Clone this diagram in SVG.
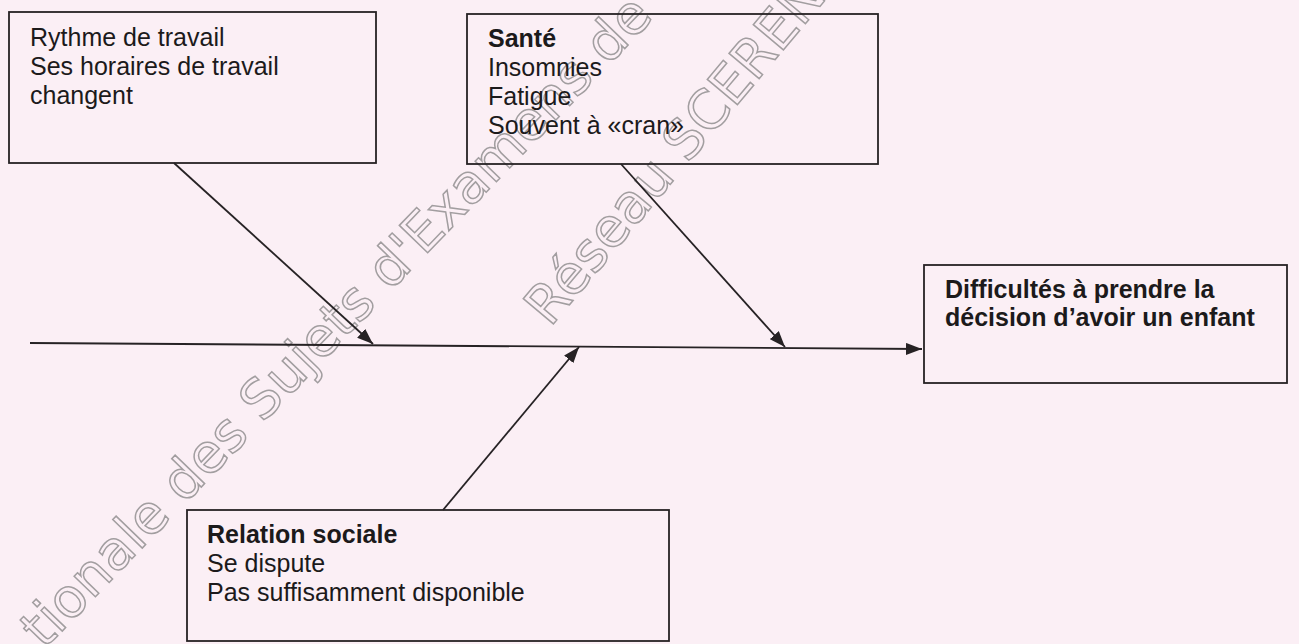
<svg xmlns="http://www.w3.org/2000/svg" width="1299" height="644" viewBox="0 0 1299 644">
<defs>
<style>
.bg{fill:#fbeff5}
.box{fill:none;stroke:#262224;stroke-width:1.8}
.t{font-family:"Liberation Sans",Arial,sans-serif;font-size:25px;fill:#1c1a1b}
.b{font-weight:bold}
.wm{font-family:"DejaVu Sans","Liberation Sans",sans-serif;font-size:54px;fill:none;stroke:#a29ea0;stroke-width:1.5}
.c{fill:none;stroke:#262224;stroke-width:1.8;marker-end:url(#ah)}
</style>
<marker id="ah" markerUnits="userSpaceOnUse" markerWidth="17" markerHeight="12" refX="16" refY="6" orient="auto">
<path d="M0,0 L16,6 L0,12 Z" fill="#262224"/>
</marker>
</defs>
<rect class="bg" x="0" y="0" width="1299" height="644"/>
<g id="watermark">
<text class="wm" transform="translate(44,650) rotate(-46)">tionale des Sujets d'Examens de</text>
<text class="wm" transform="translate(550,328) rotate(-50)">Réseau SCEREN</text>
</g>
<g id="connectors">
<path class="c" d="M30,343 L922,349"/>
<path class="c" d="M174,163 L373,344"/>
<path class="c" d="M621,164 L785,347"/>
<path class="c" d="M443,510 L579,347"/>
</g>
<g id="node-rythme">
<rect class="box" x="9" y="12" width="367" height="151"/>
<text class="t" x="30" y="46">Rythme de travail</text>
<text class="t" x="30" y="75">Ses horaires de travail</text>
<text class="t" x="30" y="104">changent</text>
</g>
<g id="node-sante">
<rect class="box" x="467" y="14" width="411" height="150"/>
<text class="t b" x="488" y="47">Santé</text>
<text class="t" x="488" y="76">Insomnies</text>
<text class="t" x="488" y="105">Fatigue</text>
<text class="t" x="488" y="134">Souvent à «cran»</text>
</g>
<g id="node-relation">
<rect class="box" x="187" y="510" width="482" height="131"/>
<text class="t b" x="207" y="543">Relation sociale</text>
<text class="t" x="207" y="572">Se dispute</text>
<text class="t" x="207" y="601">Pas suffisamment disponible</text>
</g>
<g id="node-effet">
<rect class="box" x="924" y="265" width="363" height="118"/>
<text class="t b" x="945" y="298">Difficultés à prendre la</text>
<text class="t b" x="945" y="326">décision d’avoir un enfant</text>
</g>
</svg>
